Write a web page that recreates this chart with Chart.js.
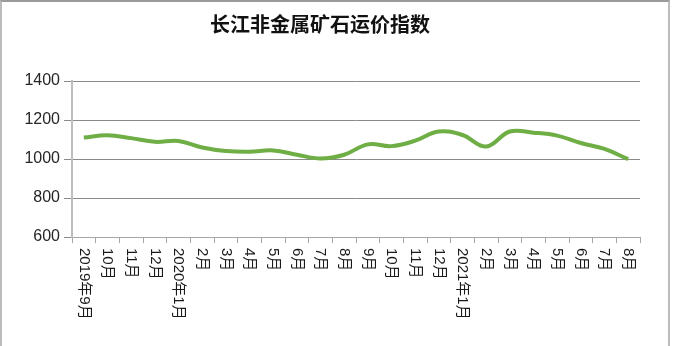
<!DOCTYPE html>
<html>
<head>
<meta charset="utf-8">
<script src="https://cdn.jsdelivr.net/npm/chart.js@4/dist/chart.umd.min.js"></script>
<style>
  html, body { margin: 0; padding: 0; background: #fff; }
  #wrap { position: relative; width: 673px; height: 346px; overflow: hidden; }
  #chart { position: absolute; left: 0; top: 0; }
  #frame { position: absolute; left: 0; top: 0; width: 666px; height: 360px;
           border: 2px solid #bcbcbc; border-top-color: #9a9a9a; pointer-events: none; }
</style>
</head>
<body>
<div id="wrap">
  <canvas id="chart" width="673" height="346"></canvas>
  <div id="frame"></div>
</div>
<script>
const title = '长江非金属矿石运价指数';
const categories = ['2019年9月','10月','11月','12月','2020年1月','2月','3月','4月','5月','6月','7月','8月',
                    '9月','10月','11月','12月','2021年1月','2月','3月','4月','5月','6月','7月','8月'];
const indexValues = [1110,1122,1107,1088,1092,1059,1041,1037,1044,1022,1003,1022,
                     1075,1066,1094,1141,1123,1064,1141,1135,1120,1082,1052,999];
const yTicks = [600, 800, 1000, 1200, 1400];

// Category scale whose rotated labels read top-to-bottom, starting at the axis
class DownCategoryScale extends Chart.CategoryScale {
  _getXAxisLabelAlignment() { return 'left'; }
}
DownCategoryScale.id = 'downCategory';
Chart.register(DownCategoryScale);

const labelFont = { family: "'Liberation Sans', 'Noto Sans CJK SC', sans-serif", size: 15 };

new Chart(document.getElementById('chart'), {
  type: 'line',
  data: {
    labels: categories,
    datasets: [{
      label: title,
      data: indexValues,
      borderColor: '#6fae45',
      borderWidth: 4,
      tension: 0.4,
      pointRadius: 0,
      fill: false
    }]
  },
  options: {
    responsive: false,
    animation: false,
    layout: { padding: { left: 0, right: 33, top: 0, bottom: 2 } },
    plugins: {
      legend: { display: false },
      tooltip: { enabled: false },
      title: {
        display: true,
        text: title,
        color: '#111',
        font: { family: "'Noto Sans CJK SC', sans-serif", size: 20, weight: 'bold' },
        padding: { top: 12, bottom: 45 }
      }
    },
    scales: {
      x: {
        type: 'downCategory',
        offset: true,
        grid: {
          offset: true,
          drawOnChartArea: false,
          drawTicks: true,
          tickLength: 6,
          color: '#a6a6a6'
        },
        border: { display: true, color: '#a6a6a6', width: 1 },
        ticks: {
          autoSkip: false,
          minRotation: -90,
          maxRotation: -90,
          padding: 5,
          color: '#1a1a1a',
          font: labelFont
        },
        afterFit: (scale) => { scale.height = 107; }
      },
      y: {
        min: 600,
        max: 1400,
        afterBuildTicks: (scale) => { scale.ticks = yTicks.map(v => ({ value: v })); },
        grid: { color: '#8a8a8a', lineWidth: 1, tickLength: 8, drawTicks: true },
        border: { display: true, color: '#bdbdbd', width: 2 },
        ticks: {
          padding: 4,
          color: '#262626',
          font: { family: "'Liberation Sans', sans-serif", size: 16 },
          callback: (value) => String(value)
        },
        afterFit: (scale) => { scale.width = 72; }
      }
    }
  }
});
</script>
</body>
</html>
